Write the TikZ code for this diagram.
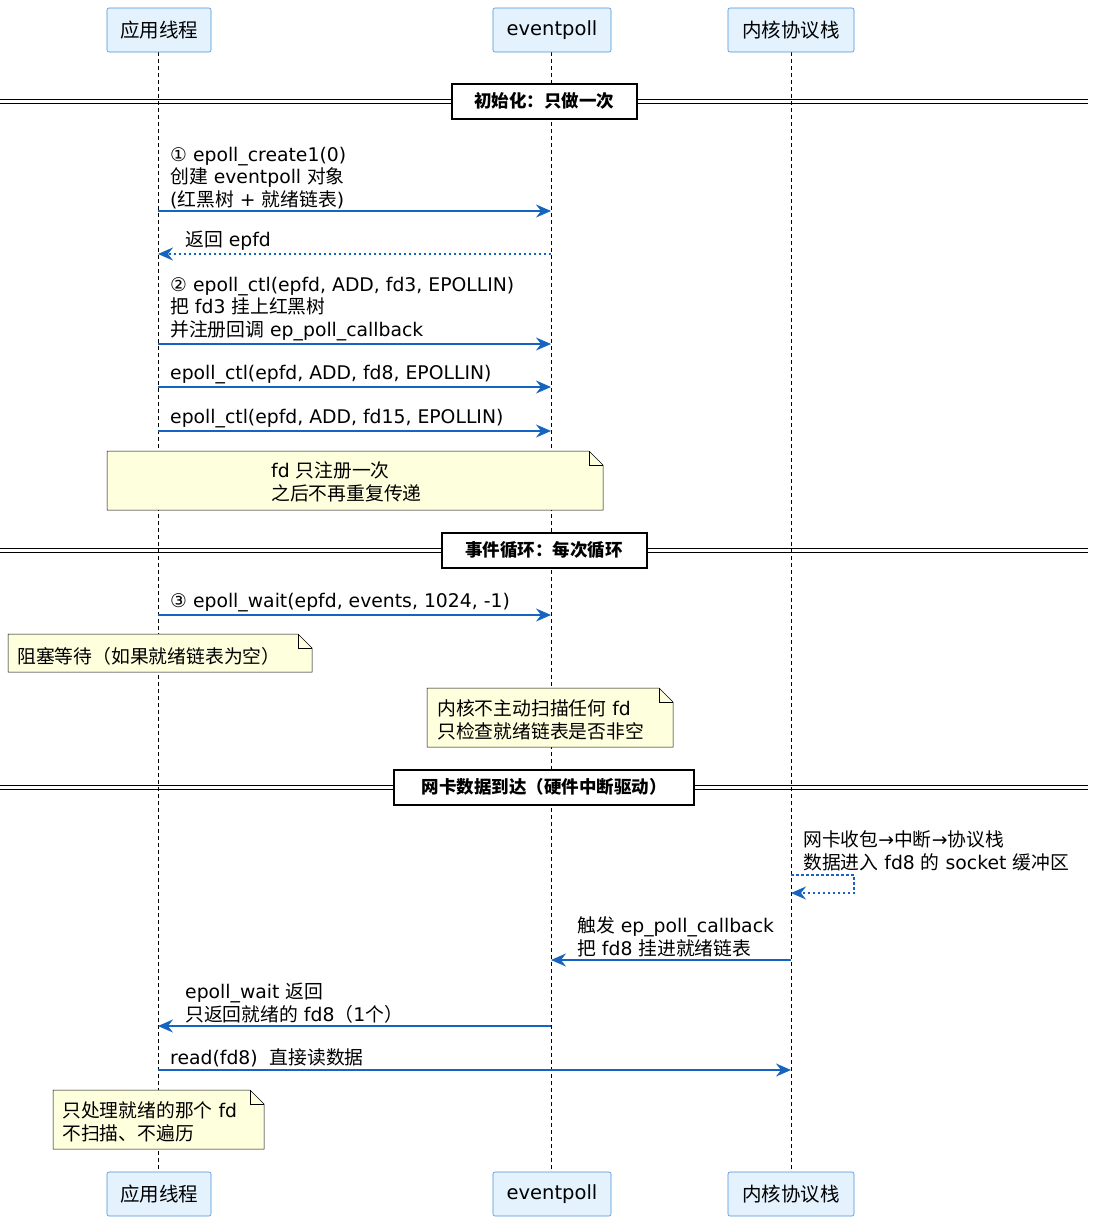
\documentclass[tikz,border=0pt]{standalone}
\usepackage{fontspec}
\setmainfont{DejaVu Sans}
\newfontfamily\cjkf{Noto Sans CJK SC}
\newfontfamily\latf{DejaVu Sans}
\XeTeXinterchartokenstate=1
\newXeTeXintercharclass\cjkclass
\newcount\cc
\cc="4E00 \loop\XeTeXcharclass\cc=\cjkclass \advance\cc1 \ifnum\cc<"A000 \repeat
\cc="3000 \loop\XeTeXcharclass\cc=\cjkclass \advance\cc1 \ifnum\cc<"3040 \repeat
\cc="FF00 \loop\XeTeXcharclass\cc=\cjkclass \advance\cc1 \ifnum\cc<"FFF0 \repeat
\XeTeXinterchartoks 0 \cjkclass = {\cjkf}
\XeTeXinterchartoks 4095 \cjkclass = {\cjkf}
\XeTeXinterchartoks \cjkclass 0 = {\latf}
\XeTeXinterchartoks \cjkclass 4095 = {\latf}
\usetikzlibrary{arrows.meta}
\definecolor{arr}{HTML}{1565C0}
\definecolor{pfill}{HTML}{E3F2FD}
\definecolor{pdraw}{HTML}{4A90D9}
\definecolor{nfill}{HTML}{FEFFDD}
\begin{document}
\begin{tikzpicture}[x=1pt,y=-1pt,
  part/.style={draw=pdraw,fill=pfill,rounded corners=2pt,line width=0.6pt},
  ptext/.style={font=\fontsize{19.5}{19.5}\selectfont,anchor=center},
  msg/.style={draw=arr,line width=1.1pt,-{Stealth[length=15pt,width=13pt,inset=5pt]}},
  ret/.style={msg,dash pattern=on 2.5pt off 2.5pt},
  txt/.style={font=\fontsize{18.8}{22.5}\selectfont,anchor=south west,align=left,inner sep=0pt},
  sep/.style={font=\bfseries\fontsize{17.5}{17.5}\selectfont,draw,line width=2pt,fill=white,minimum height=35pt,inner xsep=0pt},
  life/.style={dash pattern=on 4pt off 3pt,line width=0.5pt}]
\useasboundingbox (0,0) rectangle (1098,1224);
\foreach \x in {158,551,791} \draw[life] (\x,52) -- (\x,1172);
\foreach \y/\s in {8/t,1172/b}{
 \draw[part] (107,\y) rectangle (211,\y+44); \node[ptext] (app\s) at (159,\y+22) {应用线程};
 \draw[part] (493,\y) rectangle (611,\y+44); \node[ptext] (ep\s) at (552,\y+22) {eventpoll};
 \draw[part] (728,\y) rectangle (854,\y+44); \node[ptext] (k\s) at (791,\y+22) {内核协议栈};
}
\foreach \y/\cx/\w/\t in {101/544/185/初始化：只做一次, 550/544/205/事件循环：每次循环, 787/544/300/网卡数据到达（硬件中断驱动）}{
 \draw[line width=0.9pt] (0,\y-2) -- (1088,\y-2) (0,\y+2) -- (1088,\y+2);
 \node[sep,minimum width=\w pt] at (\cx,\y) {\t};
}
\coordinate (a1) at (158,211); \coordinate (e1) at (551,211);
\draw[msg] (a1) -- (e1);
\node[txt] at (170,209) {① epoll\_create1(0)\\创建 eventpoll 对象\\(红黑树 + 就绪链表)};
\coordinate (a2) at (158,254); \coordinate (e2) at (551,254);
\draw[ret] (e2) -- (a2);
\node[txt] at (185,251) {返回 epfd};
\coordinate (a3) at (158,344); \coordinate (e3) at (551,344);
\draw[msg] (a3) -- (e3);
\node[txt] at (170,341) {② epoll\_ctl(epfd, ADD, fd3, EPOLLIN)\\把 fd3 挂上红黑树\\并注册回调 ep\_poll\_callback};
\coordinate (a4) at (158,387); \coordinate (e4) at (551,387);
\draw[msg] (a4) -- (e4);
\node[txt] at (170,384) {epoll\_ctl(epfd, ADD, fd8, EPOLLIN)};
\coordinate (a5) at (158,431); \coordinate (e5) at (551,431);
\draw[msg] (a5) -- (e5);
\node[txt] at (170,428) {epoll\_ctl(epfd, ADD, fd15, EPOLLIN)};
\newcommand{\mynote}[4]{%
 \draw[fill=nfill,line width=0.5pt] (#1,#2) -- (#3-14,#2) -- (#3,#2+14) -- (#3,#4) -- (#1,#4) -- cycle;
 \draw[line width=0.5pt] (#3-14,#2) -- (#3-14,#2+14) -- (#3,#2+14);}
\mynote{107}{451}{603}{510}
\node[txt] at (271,502) {fd 只注册一次\\之后不再重复传递};
\coordinate (a6) at (158,615); \coordinate (e6) at (551,615);
\draw[msg] (a6) -- (e6);
\node[txt] at (170,612) {③ epoll\_wait(epfd, events, 1024, -1)};
\mynote{8}{634}{312}{672}
\node[txt] at (17,665) {阻塞等待（如果就绪链表为空）};
\mynote{427}{688}{673}{747}
\node[txt] at (437,740) {内核不主动扫描任何 fd\\只检查就绪链表是否非空};
\coordinate (k1) at (791,875); \coordinate (k2) at (791,893);
\draw[ret] (k1) -- (854,875) -- (854,893) -- (k2);
\node[txt] at (803,871) {网卡收包→中断→协议栈\\数据进入 fd8 的 socket 缓冲区};
\coordinate (k3) at (791,960); \coordinate (e7) at (551,960);
\draw[msg] (k3) -- (e7);
\node[txt] at (577,957) {触发 ep\_poll\_callback\\把 fd8 挂进就绪链表};
\coordinate (e8) at (551,1026); \coordinate (a8) at (158,1026);
\draw[msg] (e8) -- (a8);
\node[txt] at (185,1023) {epoll\_wait 返回\\只返回就绪的 fd8（1个）};
\coordinate (a9) at (158,1070); \coordinate (k9) at (791,1070);
\draw[msg] (a9) -- (k9);
\node[txt] at (170,1067) {read(fd8)\ \ 直接读数据};
\mynote{53}{1090}{264}{1149}
\node[txt] at (62,1142) {只处理就绪的那个 fd\\不扫描、不遍历};
\end{tikzpicture}
\end{document}
